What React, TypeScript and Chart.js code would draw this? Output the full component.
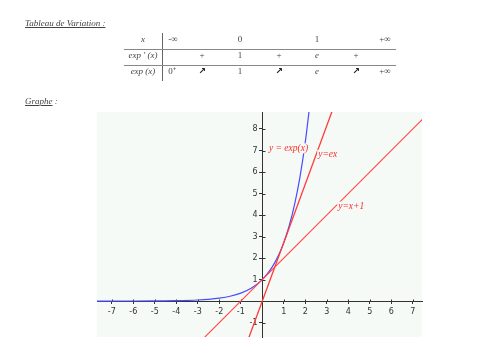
import React, { useEffect, useRef } from "react";
import { Chart, registerables } from "chart.js";

Chart.register(...registerables);

// Axis ticks
const X_TICKS = [-7, -6, -5, -4, -3, -2, -1, 0, 1, 2, 3, 4, 5, 6, 7];
const Y_TICKS = [-1, 0, 1, 2, 3, 4, 5, 6, 7, 8];
const X_MIN = -7.69;
const X_MAX = 7.43;
const Y_MIN = -1.67;
const Y_MAX = 8.79;

// y = exp(x)
const EXP_X = [-7.7, -6, -5, -4, -3, -2.5, -2, -1.5, -1, -0.5, 0, 0.25, 0.5, 0.75, 1, 1.25, 1.5, 1.75, 2, 2.2];
const EXP_Y = [0.0005, 0.0025, 0.0067, 0.018, 0.05, 0.082, 0.135, 0.223, 0.368, 0.607, 1, 1.284, 1.649, 2.117, 2.718, 3.49, 4.48, 5.75, 7.39, 9.03];

// y = ex
const EX_X = [-0.7, 3.3];
const EX_Y = [-1.903, 8.97];

// y = x + 1
const X1_X = [-2.8, 7.6];
const X1_Y = [-1.8, 8.6];

// Curve labels
const CURVE_LABELS = ["y = exp(x)", "y=ex", "y=x+1"];
const CURVE_LABEL_X = [0.31, 2.6, 3.53];
const CURVE_LABEL_Y = [7.1, 6.8, 4.39];

// Variation table
const ROW_LABELS = ["x", "exp ' (x)", "exp (x)"];
const ROW1 = ["-∞", "0", "1", "+∞"];
const ROW2 = ["+", "1", "+", "e", "+"];
const ROW3 = ["0⁺", "↗", "1", "↗", "e", "↗", "+∞"];

const ROW1_X = [173, 240, 317, 385];
const ROW2_X = [202, 240, 279, 317, 356];
const ROW3_X = [172, 202, 240, 279, 317, 356, 385];
const ROW_Y = [39, 55, 71];

const BG = "#f6faf6";
const AXIS = "#333";

const toPts = (xs: number[], ys: number[]) => xs.map((x, i) => ({ x, y: ys[i] }));

const plotPlugin = {
  id: "plotDecor",
  beforeDraw(chart: any) {
    const { ctx, chartArea } = chart;
    const { left, top, right, bottom } = chartArea;
    ctx.save();
    ctx.fillStyle = BG;
    ctx.fillRect(left, top, right - left, bottom - top);
    ctx.restore();
  },
  beforeDatasetsDraw(chart: any) {
    const { ctx } = chart;
    const xs = chart.scales.x;
    const ys = chart.scales.y;
    const x0 = Math.round(xs.getPixelForValue(0)) + 0.5;
    const y0 = Math.round(ys.getPixelForValue(0)) + 0.5;
    ctx.save();
    ctx.strokeStyle = AXIS;
    ctx.lineWidth = 1;
    ctx.beginPath();
    for (const t of X_TICKS) {
      if (t === 0) continue;
      const px = Math.round(xs.getPixelForValue(t)) + 0.5;
      ctx.moveTo(px, y0 - 2);
      ctx.lineTo(px, y0);
    }
    for (const t of Y_TICKS) {
      if (t === 0) continue;
      const py = Math.round(ys.getPixelForValue(t)) + 0.5;
      ctx.moveTo(x0, py);
      ctx.lineTo(x0 + 3, py);
    }
    ctx.stroke();
    // y tick labels, left of the axis
    ctx.fillStyle = AXIS;
    ctx.font = "8px 'DejaVu Sans'";
    ctx.textAlign = "right";
    ctx.textBaseline = "middle";
    for (const t of Y_TICKS) {
      if (t === 0) continue;
      ctx.fillText(String(t), x0 - 5, ys.getPixelForValue(t));
    }
    ctx.restore();
  },
  afterDatasetsDraw(chart: any) {
    const { ctx } = chart;
    const xs = chart.scales.x;
    const ys = chart.scales.y;
    ctx.save();
    ctx.font = "italic 9.5px 'Liberation Serif'";
    ctx.textBaseline = "middle";
    ctx.textAlign = "left";
    CURVE_LABELS.forEach((t, i) => {
      const px = xs.getPixelForValue(CURVE_LABEL_X[i]);
      const py = ys.getPixelForValue(CURVE_LABEL_Y[i]);
      const w = ctx.measureText(t).width;
      ctx.fillStyle = BG;
      ctx.fillRect(px - 1, py - 5, w + 2, 10);
      ctx.fillStyle = "#ff2a2a";
      ctx.fillText(t, px, py);
    });
    ctx.restore();
  },
};

function ChartView() {
  const ref = useRef<HTMLCanvasElement | null>(null);
  useEffect(() => {
    if (!ref.current) return;
    const chart = new Chart(ref.current, {
      type: "line",
      data: {
        datasets: [
          {
            label: "y=x+1",
            data: toPts(X1_X, X1_Y),
            borderColor: "#ff4545",
            borderWidth: 1.1,
            pointRadius: 0,
            fill: false,
          },
          {
            label: "y=ex",
            data: toPts(EX_X, EX_Y),
            borderColor: "#ff3a3a",
            borderWidth: 1.3,
            pointRadius: 0,
            fill: false,
          },
          {
            label: "y = exp(x)",
            data: toPts(EXP_X, EXP_Y),
            borderColor: "#4a4aff",
            borderWidth: 1.2,
            pointRadius: 0,
            fill: false,
            cubicInterpolationMode: "monotone",
          },
        ],
      },
      options: {
        animation: false,
        responsive: false,
        maintainAspectRatio: false,
        layout: { padding: { left: 97, right: 58, top: 112, bottom: 14 } },
        plugins: { legend: { display: false }, tooltip: { enabled: false } },
        scales: {
          x: {
            type: "linear",
            min: X_MIN,
            max: X_MAX,
            position: { y: 0 } as any,
            afterBuildTicks: (s: any) => {
              s.ticks = X_TICKS.map((v) => ({ value: v }));
            },
            ticks: {
              callback: (v: any) => (v === 0 ? "" : String(v)),
              font: { family: "DejaVu Sans", size: 8 },
              color: AXIS,
              padding: 4,
              maxRotation: 0,
              autoSkip: false,
            },
            grid: { display: true, drawOnChartArea: false, drawTicks: true, tickLength: 2, color: AXIS },
            border: { display: true, color: AXIS, width: 1 },
          },
          y: {
            type: "linear",
            min: Y_MIN,
            max: Y_MAX,
            position: { x: 0 } as any,
            afterBuildTicks: (s: any) => {
              s.ticks = Y_TICKS.map((v) => ({ value: v }));
            },
            ticks: { display: false },
            grid: { display: true, drawOnChartArea: false, drawTicks: true, tickLength: 3, color: AXIS },
            border: { display: true, color: AXIS, width: 1 },
          },
        },
      },
      plugins: [plotPlugin],
    } as any);
    return () => chart.destroy();
  }, []);
  return (
    <canvas
      ref={ref}
      width={480}
      height={351}
      style={{ position: "absolute", left: 0, top: 0, width: 480, height: 351 }}
    />
  );
}

const cellStyle = (x: number, y: number): React.CSSProperties => ({
  position: "absolute",
  left: x - 30,
  top: y - 6,
  width: 60,
  height: 12,
  lineHeight: "12px",
  textAlign: "center",
  whiteSpace: "nowrap",
});

export default function App() {
  const serif = "'Liberation Serif', serif";
  return (
    <div
      style={{
        position: "absolute",
        left: 0,
        top: 0,
        width: 480,
        height: 351,
        background: "#fff",
        fontFamily: serif,
        fontSize: 9,
        color: "#444",
        overflow: "hidden",
      }}
    >
      <ChartView />
      <div style={{ position: "absolute", left: 25, top: 18, fontStyle: "italic", fontSize: 9, textDecoration: "underline", whiteSpace: "nowrap" }}>
        Tableau de Variation :
      </div>
      <div style={{ position: "absolute", left: 162, top: 33, width: 1, height: 48, background: "#666" }} />
      <div style={{ position: "absolute", left: 124, top: 49, width: 272, height: 1, background: "#888" }} />
      <div style={{ position: "absolute", left: 124, top: 65, width: 272, height: 1, background: "#888" }} />
      {ROW_LABELS.map((t, i) => (
        <div key={"rl" + i} style={{ ...cellStyle(143, ROW_Y[i]), fontStyle: "italic" }}>
          {t}
        </div>
      ))}
      {ROW1.map((t, i) => (
        <div key={"r1" + i} style={cellStyle(ROW1_X[i], ROW_Y[0])}>{t}</div>
      ))}
      {ROW2.map((t, i) => (
        <div key={"r2" + i} style={{ ...cellStyle(ROW2_X[i], ROW_Y[1]), fontStyle: t === "e" ? "italic" : "normal" }}>{t}</div>
      ))}
      {ROW3.map((t, i) => (
        <div
          key={"r3" + i}
          style={{
            ...cellStyle(ROW3_X[i], ROW_Y[2]),
            fontStyle: t === "e" ? "italic" : "normal",
            fontFamily: t === "↗" ? "'DejaVu Sans', sans-serif" : serif,
            fontWeight: t === "↗" ? "bold" : "normal",
            color: t === "↗" ? "#222" : "#444",
          }}
        >
          {t}
        </div>
      ))}
      <div style={{ position: "absolute", left: 25, top: 96, fontStyle: "italic", fontSize: 9, whiteSpace: "nowrap" }}>
        <span style={{ textDecoration: "underline" }}>Graphe</span> :
      </div>
    </div>
  );
}
